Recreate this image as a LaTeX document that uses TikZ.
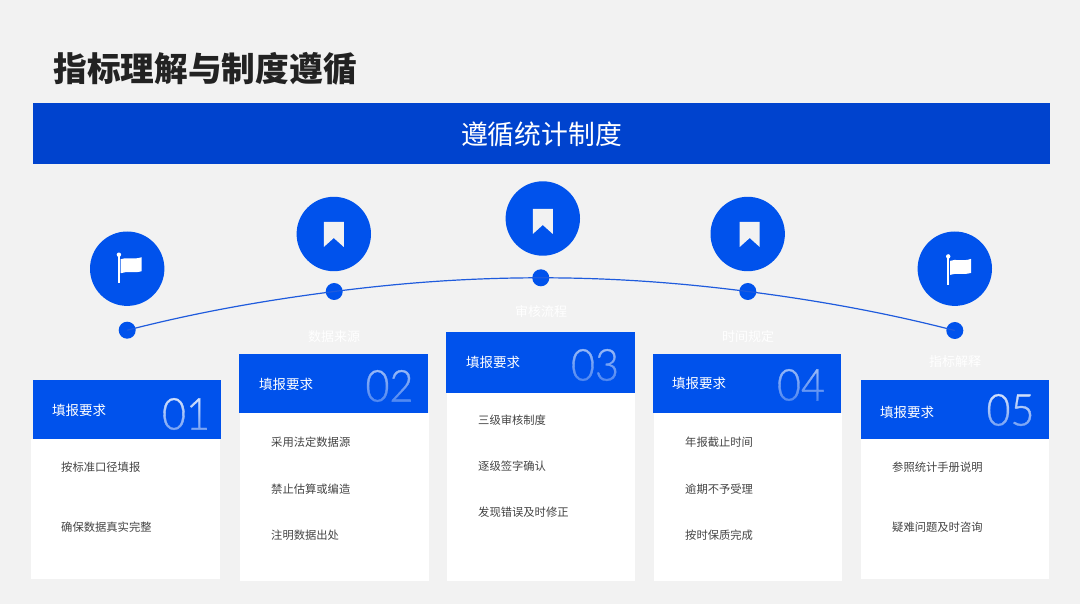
\documentclass[tikz,border=0pt]{standalone}
\usepackage{fontspec}
\usetikzlibrary{fadings,calc}
\newfontfamily\cjk{Noto Sans CJK SC}
\newfontfamily\numf{Lato Light}[FakeBold=0.8]
\definecolor{bgc}{HTML}{F2F2F2}
\definecolor{bannerc}{HTML}{0043CE}
\definecolor{headc}{HTML}{0052EC}
\definecolor{linec}{HTML}{1F5BDD}
\definecolor{titlec}{HTML}{222222}
\definecolor{bodyc}{HTML}{444444}
\tikzfading[name=numfadeA, top color=transparent!90, bottom color=transparent!40]
\tikzfading[name=numfadeB, top color=transparent!65, bottom color=transparent!25]
\tikzset{
  x=1pt,y=-1pt,
  txt/.style={inner sep=0pt,font=\cjk},
  headbox/.style={fill=headc,draw=none,inner sep=0pt,minimum width=188.5pt,anchor=north west},
  bodybox/.style={fill=white,draw=none,inner sep=0pt,minimum width=188.5pt,anchor=north west},
  headtxt/.style={txt,anchor=west,text=white,font=\cjk\fontsize{13.5}{16}\selectfont},
  item/.style={txt,anchor=west,text=bodyc,font=\cjk\fontsize{11.3}{14}\selectfont},
  faint/.style={txt,text=white,font=\cjk\fontsize{13}{16}\selectfont},
  num/.style={inner sep=0pt,text=white,font=\numf\fontsize{44}{44}\selectfont},
  bigc/.style={circle,fill=headc,draw=none,inner sep=0pt,minimum size=74.4pt},
  dotc/.style={circle,fill=headc,draw=none,inner sep=0pt,minimum size=17pt},
}
\newcommand{\bmk}[2]{\fill[bgc] ($(#1)+(-10,#2)$) -- ++(20,0) -- ++(0,25) -- ++(-10,-9) -- ++(-10,9) -- cycle;}
\newcommand{\flg}[1]{%
  \fill[white] ($(#1)+(-9.3,-13)$) rectangle ($(#1)+(-7.3,14.5)$);
  \fill[white] ($(#1)+(-8.3,-14)$) circle (2.2);
  \fill[white] ($(#1)+(-6.5,-9.5)$) .. controls ($(#1)+(-1,-12)$) and ($(#1)+(6,-8.5)$) .. ($(#1)+(14.5,-11.5)$)
     -- ($(#1)+(14.5,2.5)$) .. controls ($(#1)+(6,5)$) and ($(#1)+(0,2)$) .. ($(#1)+(-6.5,4.5)$) -- cycle;}
\newcommand{\numfade}[3]{\fill[headc,path fading=#3,fading angle=#2] ($(#1)+(-27,-22)$) rectangle ($(#1)+(27,22)$);}
\begin{document}
\begin{tikzpicture}
\useasboundingbox (0,0) rectangle (1080,604);
\fill[bgc] (0,0) rectangle (1080,604);
\node[txt,anchor=west,text=titlec,font=\cjk\fontsize{33.7}{40}\selectfont\bfseries] (title) at (53.3,69) {指标理解与制度遵循};
\node[fill=bannerc,inner sep=0pt,minimum width=1017pt,minimum height=61pt,anchor=north west] (banner) at (33,103) {};
\node[txt,text=white,font=\cjk\fontsize{26.8}{32}\selectfont] (bannertxt) at (541.5,134.5) {遵循统计制度};
% circles and dots
\node[bigc] (c1) at (127.2,268.7) {};
\node[bigc] (c2) at (333.8,234) {};
\node[bigc] (c3) at (542.8,218.5) {};
\node[bigc] (c4) at (747.7,234) {};
\node[bigc] (c5) at (954.8,268.7) {};
\coordinate (m4) at ($(c4)+(2,0)$);
\coordinate (m5) at ($(c5)+(1.7,1.7)$);
\flg{c1}
\bmk{c2}{-12}
\bmk{c3}{-9.5}
\bmk{m4}{-12}
\flg{m5}
\node[dotc] (d1) at (127.2,330.2) {};
\node[dotc] (d2) at (334.2,291.5) {};
\node[dotc] (d3) at (540.8,277.8) {};
\node[dotc] (d4) at (747.8,291.5) {};
\node[dotc] (d5) at (954.8,330.5) {};
\draw[linec,line width=1.2pt] (d1.center) .. controls +(70,-18) and +(-70,9) .. (d2.center)
  .. controls +(70,-9) and +(-70,0) .. (d3.center)
  .. controls +(70,0) and +(-70,-9) .. (d4.center)
  .. controls +(70,9) and +(-70,-18) .. (d5.center);
% faint labels
\node[faint] (f2) at (334,336.5) {数据来源};
\node[faint] (f3) at (541,312) {审核流程};
\node[faint] (f4) at (748,337) {时间规定};
\node[faint] (f5) at (955,362) {指标解释};
% card 1
\node[bodybox,minimum height=140pt] (b1) at (31,439) {};
\node[headbox,minimum height=59pt] (h1) at (32.5,380) {};
\node[headtxt] (t1) at (52,410) {填报要求};
\node[num] (n1) at (186,414) {\scalebox{.94}[1]{01}};
\numfade{n1}{0}{numfadeA}
\node[item] (a11) at (61,467) {按标准口径填报};
\node[item] (a12) at (61,527.5) {确保数据真实完整};
% card 2
\node[bodybox,minimum height=168pt] (b2) at (240,413) {};
\node[headbox,minimum height=59pt] (h2) at (239.2,354) {};
\node[headtxt] (t2) at (259,384) {填报要求};
\node[num] (n2) at (389.5,386) {\scalebox{.94}[1]{02}};
\numfade{n2}{0}{numfadeB}
\node[item] (a21) at (271,442.5) {采用法定数据源};
\node[item] (a22) at (271,489) {禁止估算或编造};
\node[item] (a23) at (271,535) {注明数据出处};
% card 3
\node[bodybox,minimum height=188pt] (b3) at (446.3,393) {};
\node[headbox,minimum height=61pt] (h3) at (446,332) {};
\node[headtxt] (t3) at (466,362) {填报要求};
\node[num] (n3) at (595,365) {\scalebox{.94}[1]{03}};
\numfade{n3}{0}{numfadeB}
\node[item] (a31) at (478,420.5) {三级审核制度};
\node[item] (a32) at (478,466.5) {逐级签字确认};
\node[item] (a33) at (478,512) {发现错误及时修正};
% card 4
\node[bodybox,minimum height=168pt] (b4) at (653.5,413) {};
\node[headbox,minimum height=59pt] (h4) at (652.7,354) {};
\node[headtxt] (t4) at (672,383) {填报要求};
\node[num] (n4) at (801,385) {\scalebox{.94}[1]{04}};
\numfade{n4}{0}{numfadeB}
\node[item] (a41) at (685,442.5) {年报截止时间};
\node[item] (a42) at (685,489) {逾期不予受理};
\node[item] (a43) at (685,535) {按时保质完成};
% card 5
\node[bodybox,minimum height=140pt] (b5) at (860.7,439) {};
\node[headbox,minimum height=59pt] (h5) at (860.7,380) {};
\node[headtxt] (t5) at (880,412) {填报要求};
\node[num] (n5) at (1010.5,410) {\scalebox{.94}[1]{05}};
\numfade{n5}{0}{numfadeA}
\node[item] (a51) at (892,467) {参照统计手册说明};
\node[item] (a52) at (892,527.5) {疑难问题及时咨询};
\end{tikzpicture}
\end{document}
